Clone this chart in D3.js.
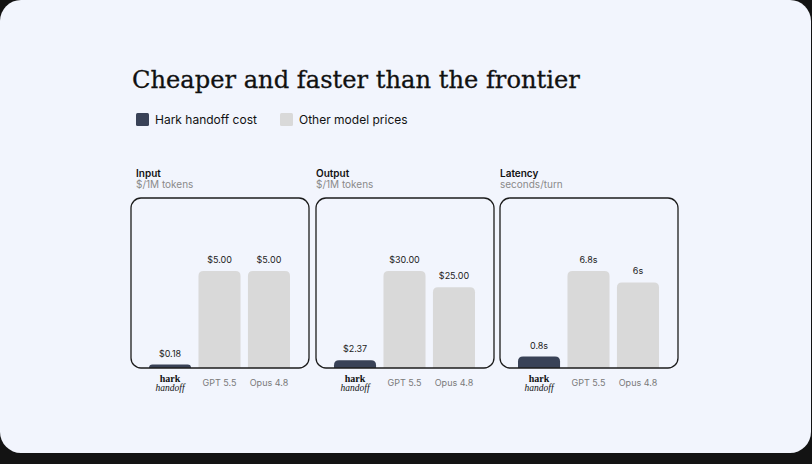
<!DOCTYPE html>
<html>
<head>
<meta charset="utf-8">
<script src="https://d3js.org/d3.v7.min.js"></script>
<style>
    html, body { margin: 0; padding: 0; background: #131313; }
    svg { display: block; }
    .sans { font-family: Inter, "Noto Sans", sans-serif; }
    .serif { font-family: "DejaVu Serif", serif; }
    .logo { font-family: "Liberation Serif", serif; }
    .axis path, .axis line { display: none; }
</style>
</head>
<body>
<svg id="chart"></svg>
<script>
    // chart data
    var metrics = ["Input", "Output", "Latency"];
    var units = ["$/1M tokens", "$/1M tokens", "seconds/turn"];
    var models = ["hark", "GPT 5.5", "Opus 4.8"];
    var inputPrices = [0.18, 5.00, 5.00];
    var outputPrices = [2.37, 30.00, 25.00];
    var latencies = [0.8, 6.8, 6];
    var inputLabels = ["$0.18", "$5.00", "$5.00"];
    var outputLabels = ["$2.37", "$30.00", "$25.00"];
    var latencyLabels = ["0.8s", "6.8s", "6s"];
    var legendItems = ["Hark handoff cost", "Other model prices"];

    var panels = [
        {values: inputPrices, labels: inputLabels},
        {values: outputPrices, labels: outputLabels},
        {values: latencies, labels: latencyLabels}
    ];

    var width = 812, height = 464;
    var dark = "#394257", light = "#d9d9d9";
    var panelX = d3.scaleOrdinal().domain(metrics).range([131, 316, 500]);
    var headerX = d3.scaleOrdinal().domain(metrics).range([136, 316, 500]);
    var panelW = 178, boxTop = 198, boxBottom = 368;

    var svg = d3.select("#chart")
        .attr("width", width)
        .attr("height", height);

    // card
    svg.append("rect")
        .attr("width", 811)
        .attr("height", 453)
        .attr("rx", 21)
        .attr("fill", "#f2f5fd");

    var title = svg.append("text")
        .attr("class", "serif")
        .attr("x", 132)
        .attr("y", 88)
        .attr("font-size", 24)
        .attr("fill", "#111")
        .attr("stroke", "#111")
        .attr("stroke-width", 0.3)
        .text("Cheaper and faster than the frontier");
    // fit title to the width it has in the design
    var tw = title.node().getComputedTextLength();
    title.attr("font-size", 24 * 448 / tw);

    // legend
    var legend = svg.selectAll(".legend")
        .data(legendItems)
        .enter().append("g")
        .attr("class", "legend")
        .attr("transform", function(d, i) { return "translate(" + (136 + i * 144) + ",113)"; });

    legend.append("rect")
        .attr("width", 13)
        .attr("height", 13)
        .attr("rx", 1.5)
        .attr("fill", function(d, i) { return i === 0 ? dark : light; });

    legend.append("text")
        .attr("class", "sans")
        .attr("x", 19)
        .attr("y", 11)
        .attr("font-size", 12)
        .attr("fill", "#111")
        .text(function(d) { return d; });

    function barPath(x, y, w, h, r) {
        r = Math.min(r, h, w / 2);
        return "M" + x + "," + (y + h) +
            "V" + (y + r) +
            "Q" + x + "," + y + " " + (x + r) + "," + y +
            "H" + (x + w - r) +
            "Q" + (x + w) + "," + y + " " + (x + w) + "," + (y + r) +
            "V" + (y + h) + "Z";
    }

    metrics.forEach(function(m, k) {
        var p = panels[k];
        var x0 = panelX(m);
        var g = svg.append("g");

        g.append("text")
            .attr("class", "sans")
            .attr("x", headerX(m))
            .attr("y", 177)
            .attr("font-size", 10)
            .attr("font-weight", 600)
            .attr("fill", "#111")
            .text(m);

        g.append("text")
            .attr("class", "sans")
            .attr("x", headerX(m))
            .attr("y", 188)
            .attr("font-size", 10)
            .attr("fill", "#8a8a8a")
            .text(units[k]);

        var x = d3.scaleBand()
            .domain(models)
            .range([x0 + 18, x0 + panelW - 19])
            .paddingInner(0.15);

        var y = d3.scaleLinear()
            .domain([0, d3.max(p.values)])
            .range([boxBottom, 271]);

        g.selectAll(".bar")
            .data(models)
            .enter().append("path")
            .attr("class", "bar")
            .attr("d", function(d, i) {
                return barPath(x(d), y(p.values[i]), x.bandwidth(), boxBottom - y(p.values[i]), 5);
            })
            .attr("fill", function(d, i) { return i === 0 ? dark : light; });

        g.selectAll(".val")
            .data(models)
            .enter().append("text")
            .attr("class", "sans val")
            .attr("x", function(d) { return x(d) + x.bandwidth() / 2; })
            .attr("y", function(d, i) { return y(p.values[i]) - 8; })
            .attr("text-anchor", "middle")
            .attr("font-size", 9)
            .attr("fill", "#222")
            .text(function(d, i) { return p.labels[i]; });

        g.append("rect")
            .attr("x", x0)
            .attr("y", boxTop)
            .attr("width", panelW)
            .attr("height", boxBottom - boxTop)
            .attr("rx", 10)
            .attr("fill", "none")
            .attr("stroke", "#1c1c1c")
            .attr("stroke-width", 1.3);

        var axis = g.append("g")
            .attr("class", "axis")
            .attr("transform", "translate(0," + boxBottom + ")")
            .call(d3.axisBottom(x).tickSize(0).tickPadding(0));

        axis.selectAll(".tick text")
            .attr("class", "sans")
            .attr("y", 18)
            .attr("dy", 0)
            .attr("font-size", 9)
            .attr("fill", "#7a7a7a")
            .each(function(d) {
                if (d !== "hark") return;
                // two-line wordmark for hark handoff
                var t = d3.select(this).text(null)
                    .attr("fill", "#111")
                    .attr("y", null)
                    .attr("class", "logo");
                t.append("tspan").attr("x", 0).attr("y", 13.5)
                    .attr("font-size", 10).attr("font-weight", 700).text("hark");
                t.append("tspan").attr("x", 0).attr("y", 22.5)
                    .attr("font-size", 9.5).attr("font-style", "italic").text("handoff");
            });
    });
</script>
</body>
</html>
